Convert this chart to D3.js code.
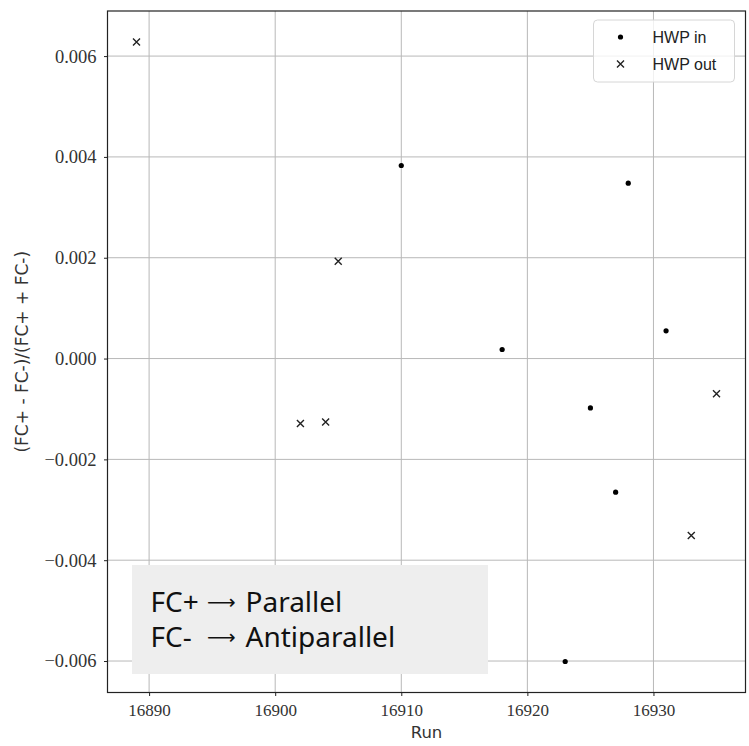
<!DOCTYPE html>
<html>
<head>
<meta charset="utf-8">
<script src="https://cdn.jsdelivr.net/npm/d3@7"></script>
<style>
  body { margin: 0; background: #fff; }
</style>
</head>
<body>
<div id="scatter"></div>
<script>
// data
const hwpInRuns = [16910, 16918, 16923, 16925, 16927, 16928, 16931];
const hwpInAsym = [0.00383, 0.00018, -0.00601, -0.00098, -0.00265, 0.00348, 0.00055];
const hwpOutRuns = [16889, 16902, 16904, 16905, 16933, 16935];
const hwpOutAsym = [0.00628, -0.00129, -0.00126, 0.00193, -0.00351, -0.00070];
const xTicks = [16890, 16900, 16910, 16920, 16930];
const yTicks = [-0.006, -0.004, -0.002, 0, 0.002, 0.004, 0.006];
const legendLabels = ["HWP in", "HWP out"];
const noteLeft = ["FC+", "FC-"];
const noteRight = ["Parallel", "Antiparallel"];

function loadGraph() {

    let plotWidth = 749;
    let plotHeight = 746;

    let margin = {
        top: 11,
        right: 3.5,
        bottom: 53.5,
        left: 107.5
    };

    let width = plotWidth - margin.left - margin.right;
    let height = plotHeight - margin.top - margin.bottom;

    let svg = d3.select("#scatter")
        .append("svg")
        .attr("width", plotWidth)
        .attr("height", plotHeight);

    let graph = svg.append("g")
        .attr("transform", `translate(${margin.left}, ${margin.top})`);

    let inData = hwpInRuns.map((r, i) => ({run: r, val: hwpInAsym[i]}));
    let outData = hwpOutRuns.map((r, i) => ({run: r, val: hwpOutAsym[i]}));
    let all = inData.concat(outData);

    // matplotlib style 5% padding
    let xExt = d3.extent(all, d => d.run);
    let yExt = d3.extent(all, d => d.val);
    let xPad = (xExt[1] - xExt[0]) * 0.05;
    let yPad = (yExt[1] - yExt[0]) * 0.05;

    let xScale = d3.scaleLinear()
        .domain([xExt[0] - xPad, xExt[1] + xPad])
        .range([0, width]);

    let yScale = d3.scaleLinear()
        .domain([yExt[0] - yPad, yExt[1] + yPad])
        .range([height, 0]);

    // grid
    graph.append("g")
        .selectAll("line")
        .data(xTicks)
        .enter()
        .append("line")
        .attr("x1", d => xScale(d))
        .attr("x2", d => xScale(d))
        .attr("y1", 0)
        .attr("y2", height)
        .attr("stroke", "#b8b8b8")
        .attr("stroke-width", 1);

    graph.append("g")
        .selectAll("line")
        .data(yTicks)
        .enter()
        .append("line")
        .attr("x1", 0)
        .attr("x2", width)
        .attr("y1", d => yScale(d))
        .attr("y2", d => yScale(d))
        .attr("stroke", "#b8b8b8")
        .attr("stroke-width", 1);

    // axes
    let xAxis = d3.axisBottom(xScale)
        .tickValues(xTicks)
        .tickFormat(d3.format("d"))
        .tickSizeInner(3.5)
        .tickSizeOuter(0)
        .tickPadding(8);

    let yAxis = d3.axisLeft(yScale)
        .tickValues(yTicks)
        .tickFormat(d3.format(".3f"))
        .tickSizeInner(3.5)
        .tickSizeOuter(0)
        .tickPadding(7.5);

    let gx = graph.append("g")
        .attr("transform", `translate(0, ${height})`)
        .call(xAxis);

    let gy = graph.append("g")
        .call(yAxis);

    [gx, gy].forEach(g => {
        g.select(".domain").remove();
        g.selectAll("line").attr("stroke", "#222");
        g.selectAll("text")
            .attr("font-family", "'Liberation Serif', 'DejaVu Serif', serif")
            .attr("fill", "#333");
    });
    gx.selectAll("text").attr("font-size", "17px");
    gy.selectAll("text").attr("font-size", "18.5px");

    // frame
    graph.append("rect")
        .attr("x", 0)
        .attr("y", 0)
        .attr("width", width)
        .attr("height", height)
        .attr("fill", "none")
        .attr("stroke", "#222")
        .attr("stroke-width", 1.2);

    // HWP in points
    graph.append("g")
        .selectAll("circle")
        .data(inData)
        .enter()
        .append("circle")
        .attr("cx", d => xScale(d.run))
        .attr("cy", d => yScale(d.val))
        .attr("r", 2.6)
        .attr("fill", "black");

    // HWP out crosses
    let cross = "M-3.5,-3.5L3.5,3.5M-3.5,3.5L3.5,-3.5";
    graph.append("g")
        .selectAll("path")
        .data(outData)
        .enter()
        .append("path")
        .attr("transform", d => `translate(${xScale(d.run)}, ${yScale(d.val)})`)
        .attr("d", cross)
        .attr("stroke", "#222")
        .attr("stroke-width", 1.4)
        .attr("fill", "none");

    // axis labels
    svg.append("text")
        .text("Run")
        .attr("x", margin.left + width / 2)
        .attr("y", 738)
        .attr("text-anchor", "middle")
        .attr("font-family", "'DejaVu Sans', sans-serif")
        .attr("font-size", "16.5px")
        .attr("fill", "#333");

    svg.append("text")
        .text("(FC+ - FC-)/(FC+ + FC-)")
        .attr("transform", `translate(28, ${margin.top + height / 2}) rotate(-90)`)
        .attr("text-anchor", "middle")
        .attr("font-family", "'DejaVu Sans', sans-serif")
        .attr("font-size", "17px")
        .attr("fill", "#333");

    // legend
    let legend = graph.append("g")
        .attr("transform", `translate(${width - 152}, 9)`);

    legend.append("rect")
        .attr("width", 141)
        .attr("height", 62)
        .attr("rx", 4)
        .attr("fill", "white")
        .attr("fill-opacity", 0.8)
        .attr("stroke", "#d6d6d6");

    legend.append("circle")
        .attr("cx", 27)
        .attr("cy", 17)
        .attr("r", 2.6)
        .attr("fill", "black");

    legend.append("path")
        .attr("transform", "translate(27, 44)")
        .attr("d", cross)
        .attr("stroke", "#222")
        .attr("stroke-width", 1.4);

    legend.selectAll("text")
        .data(legendLabels)
        .enter()
        .append("text")
        .text(d => d)
        .attr("x", 59)
        .attr("y", (d, i) => 23 + i * 27)
        .attr("font-family", "'Liberation Sans', Arial, sans-serif")
        .attr("font-size", "16px")
        .attr("fill", "#222");

    // note box
    let note = graph.append("g")
        .attr("transform", "translate(24.5, 554)");

    note.append("rect")
        .attr("width", 356)
        .attr("height", 109)
        .attr("fill", "#eeeeee");

    let rows = note.selectAll("text")
        .data(noteLeft)
        .enter()
        .append("text")
        .attr("y", (d, i) => 47 + i * 35)
        .attr("font-family", "'Noto Sans', 'Open Sans', sans-serif")
        .attr("font-size", "28px")
        .attr("fill", "#111");

    rows.append("tspan")
        .attr("x", 18.5)
        .text(d => d);

    rows.append("tspan")
        .attr("x", 75)
        .attr("dy", -3)
        .attr("font-family", "'DejaVu Sans', sans-serif")
        .attr("font-size", "20px")
        .text("\u27F6");

    rows.append("tspan")
        .attr("x", 113.5)
        .attr("dy", 3)
        .text((d, i) => noteRight[i]);
}

loadGraph();
</script>
</body>
</html>
